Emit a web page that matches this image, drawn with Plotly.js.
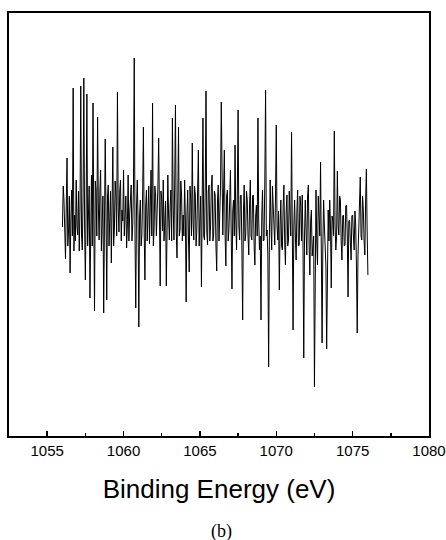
<!DOCTYPE html>
<html>
<head>
<meta charset="utf-8">
<script src="https://cdn.plot.ly/plotly-3.0.1.min.js"></script>
<style>html,body{margin:0;padding:0;background:#fff;}#chart{width:446px;height:540px;}</style>
</head>
<body>
<div id="chart"></div>
<script>
// Binding energy grid: starts at 1056 eV, 0.05 eV step
const energyStart = 1056;
const energyStep = 0.05;
// Intensity (arbitrary units)
const intensity = [
209,250,236,200,177,230,278,190,206,240,163,215,246,200,348,185,221,195,256,
210,201,245,185,230,350,200,186,240,358,210,156,225,342,190,231,250,138,205,261,
190,333,220,125,255,246,200,319,230,196,245,266,185,221,240,123,210,297,225,136,
240,251,190,211,245,173,215,289,190,206,255,241,200,344,230,204,245,256,195,226,
215,266,200,236,240,188,210,261,195,221,240,251,195,211,250,378,200,128,230,256,
215,109,220,236,190,201,240,309,205,156,230,246,195,216,250,192,230,266,200,333,
190,206,250,241,200,221,250,298,200,150,245,236,205,256,195,211,235,150,230,261,
220,196,230,246,195,318,230,196,255,331,205,178,235,309,200,206,255,241,195,221,
200,256,215,134,220,246,200,164,250,236,200,293,215,196,250,241,190,206,245,286,
190,221,240,149,225,318,200,196,250,345,205,191,245,251,195,211,250,261,195,201,
245,241,190,165,235,251,195,216,250,334,210,201,245,286,200,170,240,246,195,206,
235,266,200,147,225,236,200,291,215,186,245,326,210,196,240,241,185,116,225,251,
195,201,245,236,200,181,230,256,200,196,240,241,190,171,220,231,200,318,215,186,
200,116,220,246,195,196,255,346,200,206,180,69,200,256,215,186,250,231,200,191,
240,311,210,196,225,146,210,236,190,186,230,251,195,171,225,241,190,196,245,226,
200,304,210,106,210,236,200,176,225,246,190,191,240,231,195,241,190,78,200,236,
205,181,240,251,190,161,215,226,180,196,200,49,190,246,195,171,240,221,200,274,
205,93,190,236,210,186,170,87,185,226,195,236,210,148,220,216,200,305,210,186,
200,265,210,201,240,236,195,176,220,221,190,191,230,231,200,139,215,216,195,176,
220,221,200,186,225,211,170,103,180,206,220,259,200,196,240,226,195,181,235,267,
205,161
];
const xTickVals = [1055,1060,1065,1070,1075,1080];
const xTickText = ['1055','1060','1065','1070','1075','1080'];
const xTitle = 'Binding Energy (eV)';
const panelLabel = '(b)';

const trace = {
  type: 'scatter',
  mode: 'lines',
  x0: energyStart,
  dx: energyStep,
  y: intensity,
  line: {color: '#000000', width: 1},
  hoverinfo: 'skip'
};

const layout = {
  width: 446,
  height: 540,
  margin: {l: 9, r: 17, t: 13, b: 104},
  paper_bgcolor: '#ffffff',
  plot_bgcolor: '#ffffff',
  showlegend: false,
  font: {family: 'Liberation Sans, Arial, sans-serif', color: '#000'},
  xaxis: {
    range: [1052.5, 1080],
    tickmode: 'array',
    tickvals: xTickVals,
    ticktext: xTickText,
    ticks: 'inside',
    ticklen: 5,
    tickwidth: 1.5,
    tickcolor: '#000',
    minor: {dtick: 2.5, tick0: 1052.5, ticks: 'inside', ticklen: 3, tickwidth: 1.5, tickcolor: '#000', showgrid: false},
    tickfont: {family: 'Liberation Sans, Arial, sans-serif', size: 15, color: '#000'},
    showline: true,
    linecolor: '#000',
    linewidth: 2,
    mirror: true,
    showgrid: false,
    zeroline: false,
    title: {text: xTitle, font: {family: 'Liberation Sans, Arial, sans-serif', size: 26, color: '#000'}, standoff: 22}
  },
  yaxis: {
    range: [0, 423],
    showticklabels: false,
    ticks: '',
    showline: true,
    linecolor: '#000',
    linewidth: 2,
    mirror: true,
    showgrid: false,
    zeroline: false
  },
  annotations: [{
    text: panelLabel,
    xref: 'paper', yref: 'paper',
    x: 0.506, y: -0.226,
    xanchor: 'center', yanchor: 'middle',
    showarrow: false,
    font: {family: 'Liberation Serif, Times New Roman, serif', size: 18, color: '#000'}
  }]
};

Plotly.newPlot('chart', [trace], layout, {displayModeBar: false, staticPlot: true});
</script>
</body>
</html>
